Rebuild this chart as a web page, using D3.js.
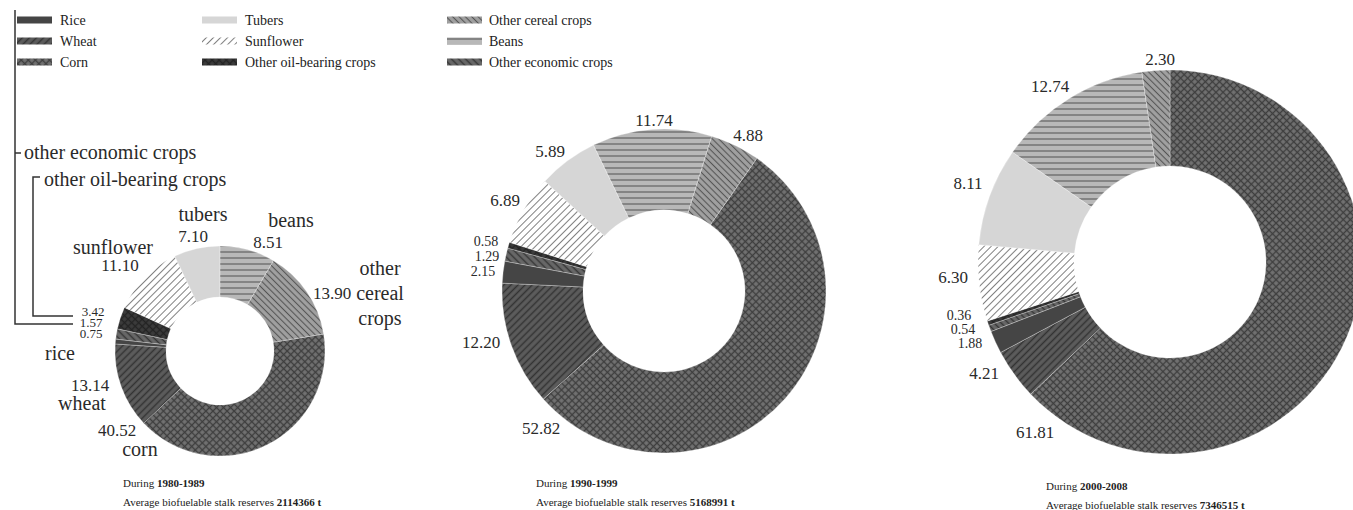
<!DOCTYPE html>
<html><head><meta charset="utf-8">
<script src="https://cdn.jsdelivr.net/npm/d3@7"></script>
<style>
html,body{margin:0;padding:0;background:#fff;}
svg{display:block;}
</style></head>
<body>
<svg id="chart" width="1353" height="510" font-family="Liberation Serif, DejaVu Serif, serif"></svg>
<script>
// ---------- DATA ----------
const categories = ["Corn","Wheat","Rice","Other economic crops","Other oil-bearing crops","Sunflower","Tubers","Beans","Other cereal crops"];
const values1980 = [40.52,13.14,0.75,1.57,3.42,11.10,7.10,8.51,13.90];
const values1990 = [52.82,12.20,2.15,1.29,0.58,6.89,5.89,11.74,4.88];
const values2000 = [61.81,4.21,1.88,0.54,0.36,6.30,8.11,12.74,2.30];
const periods = ["1980-1989","1990-1999","2000-2008"];
const reserves = ["2114366 t","5168991 t","7346515 t"];
const legendColumns = [
  ["Rice","Wheat","Corn"],
  ["Tubers","Sunflower","Other oil-bearing crops"],
  ["Other cereal crops","Beans","Other economic crops"]
];
const nameLabels1980 = ["corn","wheat","rice","other economic crops","other oil-bearing crops","sunflower","tubers","beans","other\ncereal\ncrops"];

// ---------- LAYOUT ----------
const svg = d3.select("#chart");
const donuts = [
  {values: values1980, cx: 220, cy: 351, R: 105, r: 54, start: 80.7,
   valuePos: [[117,430],[90,385],[91,333.5],[91,322.5],[93,311.5],[120,265],[193,236],[268,242],[332,293]]},
  {values: values1990, cx: 664, cy: 291, R: 162, r: 81, start: 35,
   valuePos: [[541,428],[481,342],[483,271],[487,256],[486,241],[505,200],[550,151],[654,120],[748,135]]},
  {values: values2000, cx: 1170, cy: 262, R: 192, r: 96, start: 0,
   valuePos: [[1035,432],[984,373],[970,343],[963,329],[959,315],[953,277],[968,183],[1050,86],[1160,59]]}
];
const stackedIdx = [2,3,4];
const captionPos = [[123,483],[536,483],[1046,486]];

// ---------- PATTERNS ----------
const defs = svg.append("defs");
function linePattern(id, base, line, size, width, angle){
  const p = defs.append("pattern").attr("id",id).attr("patternUnits","userSpaceOnUse")
    .attr("width",size).attr("height",size).attr("patternTransform",`rotate(${angle})`);
  p.append("rect").attr("width",size).attr("height",size).attr("fill",base);
  p.append("line").attr("x1",size/2).attr("x2",size/2).attr("y1",0).attr("y2",size)
    .attr("stroke",line).attr("stroke-width",width);
}
function crossPattern(id, base, line, size, width){
  const p = defs.append("pattern").attr("id",id).attr("patternUnits","userSpaceOnUse")
    .attr("width",size).attr("height",size).attr("patternTransform","rotate(45)");
  p.append("rect").attr("width",size).attr("height",size).attr("fill",base);
  p.append("line").attr("x1",size/2).attr("x2",size/2).attr("y1",0).attr("y2",size)
    .attr("stroke",line).attr("stroke-width",width);
  p.append("line").attr("y1",size/2).attr("y2",size/2).attr("x1",0).attr("x2",size)
    .attr("stroke",line).attr("stroke-width",width);
}
crossPattern("p-corn","#727272","#3e3e3e",5,1.4);
linePattern("p-wheat","#5c5c5c","#333333",5,1.5,45);
linePattern("p-econ","#686868","#363636",5,1.5,-45);
crossPattern("p-oil","#3c3c3c","#242424",5,1.4);
linePattern("p-sun","#ffffff","#808080",5,1,45);
linePattern("p-cereal","#a0a0a0","#555555",4.5,1.1,-45);
linePattern("p-beans","#b8b8b8","#686868",6,1.3,90);

const fills = {
  "Corn":"url(#p-corn)","Wheat":"url(#p-wheat)","Rice":"#454545",
  "Other economic crops":"url(#p-econ)","Other oil-bearing crops":"url(#p-oil)",
  "Sunflower":"url(#p-sun)","Tubers":"#d6d6d6","Beans":"url(#p-beans)",
  "Other cereal crops":"url(#p-cereal)"
};

// ---------- DONUTS ----------
const textColor = "#2a2a2a";
donuts.forEach((d,i)=>{
  const rows = categories.map((c,k)=>({cat:c, value:d.values[k], idx:k}));
  const s = d.start*Math.PI/180;
  const pie = d3.pie().sort(null).value(v=>v.value).startAngle(s).endAngle(s+2*Math.PI);
  const arc = d3.arc().innerRadius(d.r).outerRadius(d.R);
  const g = svg.append("g").attr("transform",`translate(${d.cx},${d.cy})`);
  g.selectAll("path").data(pie(rows)).join("path")
    .attr("d",arc).attr("fill",a=>fills[a.data.cat])
    .attr("stroke","#ffffff").attr("stroke-width",0.3);
  svg.append("g").selectAll("text").data(rows).join("text")
    .attr("x",(v,k)=>d.valuePos[k][0]).attr("y",(v,k)=>d.valuePos[k][1])
    .attr("text-anchor","middle").attr("dominant-baseline","central")
    .attr("font-size",(v,k)=>stackedIdx.includes(k)?(i===0?13:14):17).attr("fill",textColor)
    .text(v=>v.value.toFixed(2));
  // caption
  const [x,y] = captionPos[i];
  const t1 = svg.append("text").attr("x",x).attr("y",y).attr("dominant-baseline","central")
    .attr("font-size",11).attr("fill","#222");
  t1.append("tspan").text("During ");
  t1.append("tspan").attr("font-weight","bold").text(periods[i]);
  const t2 = svg.append("text").attr("x",x).attr("y",y+19).attr("dominant-baseline","central")
    .attr("font-size",11).attr("fill","#222");
  t2.append("tspan").text("Average biofuelable stalk reserves  ");
  t2.append("tspan").attr("font-weight","bold").text(reserves[i]);
});

// ---------- NAME LABELS (first donut) ----------
const namePos = [[140,449,"middle"],[82,403,"middle"],[60,353,"middle"],[24,152,"start"],[44,179,"start"],[113,247,"middle"],[203,214,"middle"],[291,220,"middle"],[380,268,"middle"]];
nameLabels1980.forEach((n,k)=>{
  const [x,y,a] = namePos[k];
  n.split("\n").forEach((line,j)=>{
    svg.append("text").attr("x",x).attr("y",y+j*25).attr("text-anchor",a)
      .attr("dominant-baseline","central").attr("font-size",20).attr("fill",textColor).text(line);
  });
});
// brackets
svg.append("path").attr("d","M15,10 V324 H73 M15,153 H21").attr("fill","none").attr("stroke","#333").attr("stroke-width",1.5);
svg.append("path").attr("d","M40,177 H33 V316 H73").attr("fill","none").attr("stroke","#333").attr("stroke-width",1.5);

// ---------- LEGEND ----------
const legX = [[17,60],[202,245],[447,489]];
const legY = [20,41,62];
legendColumns.forEach((col,ci)=>{
  col.forEach((name,ri)=>{
    const g = svg.append("g");
    g.append("rect").attr("x",legX[ci][0]).attr("y",legY[ri]-3.5).attr("width",35).attr("height",7)
      .attr("fill",fills[name]);
    g.append("text").attr("x",legX[ci][1]).attr("y",legY[ri]).attr("dominant-baseline","central")
      .attr("font-size",14).attr("fill","#222").text(name);
  });
});
</script>
</body></html>
